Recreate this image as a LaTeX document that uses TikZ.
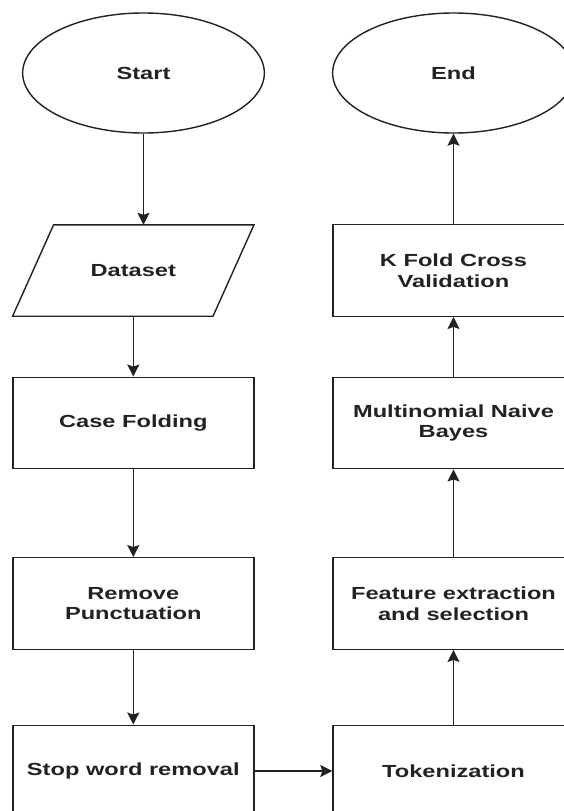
\documentclass[tikz,border=0pt]{standalone}
\usepackage{fontspec}
\newfontfamily\lblfont{Liberation Sans}[FakeStretch=1.35]
\usetikzlibrary{shapes.geometric,arrows.meta,calc}
\definecolor{ink}{HTML}{222222}
\tikzset{
  lbl/.style={font=\lblfont\bfseries\fontsize{17.5}{20.5}\selectfont, text=ink, align=center, inner sep=0pt},
  procbox/.style={lbl, draw=ink, line width=1.4pt, rectangle, minimum width=241pt, minimum height=91.5pt},
  termin/.style={lbl, draw=ink, line width=1.4pt, ellipse, minimum width=241.7pt, minimum height=120pt},
  iobox/.style={lbl, rectangle, minimum width=200pt, minimum height=91pt},
  arr/.style={draw=ink, line width=1.4pt, -{Stealth[length=12pt, width=12pt, inset=2pt]}}
}
\begin{document}
\begin{tikzpicture}[x=1pt, y=-1pt]
\useasboundingbox (0,0) rectangle (564,811);
\fill[white] (0,0) rectangle (564,811);
% left column
\node[termin] (start) at (143.5,73) {Start};
\node[iobox] (data) at (133.3,270.5) {Dataset};
\draw[ink, line width=1.4pt] ($(data.north west)+(20.5,0)$) -- ($(data.north east)+(20.5,0)$)
  -- ($(data.south east)+(-20.5,0)$) -- ($(data.south west)+(-20.5,0)$) -- cycle;
\node[procbox] (case) at (133.3,423) {Case Folding};
\node[procbox] (remove) at (133.3,603.5) {Remove\\Punctuation};
\node[procbox] (stop) at (133.3,771) {Stop word removal};
% right column
\node[termin] (end) at (453.5,73) {End};
\node[procbox] (kfold) at (453.5,270.5) {K Fold Cross\\Validation};
\node[procbox] (multi) at (453.5,423) {Multinomial Naive\\Bayes};
\node[procbox] (feat) at (453.5,603.5) {Feature extraction\\and selection};
\node[procbox] (tok) at (453.5,771) {Tokenization};
% connectors
\draw[arr] (start.south) -- (start.south |- data.north);
\draw[arr] (data.south) -- (case.north);
\draw[arr] (case.south) -- (remove.north);
\draw[arr] (remove.south) -- (stop.north);
\draw[arr] (stop.east) -- (tok.west);
\draw[arr] (tok.north) -- (feat.south);
\draw[arr] (feat.north) -- (multi.south);
\draw[arr] (multi.north) -- (kfold.south);
\draw[arr] (kfold.north) -- (end.south);
\end{tikzpicture}
\end{document}
